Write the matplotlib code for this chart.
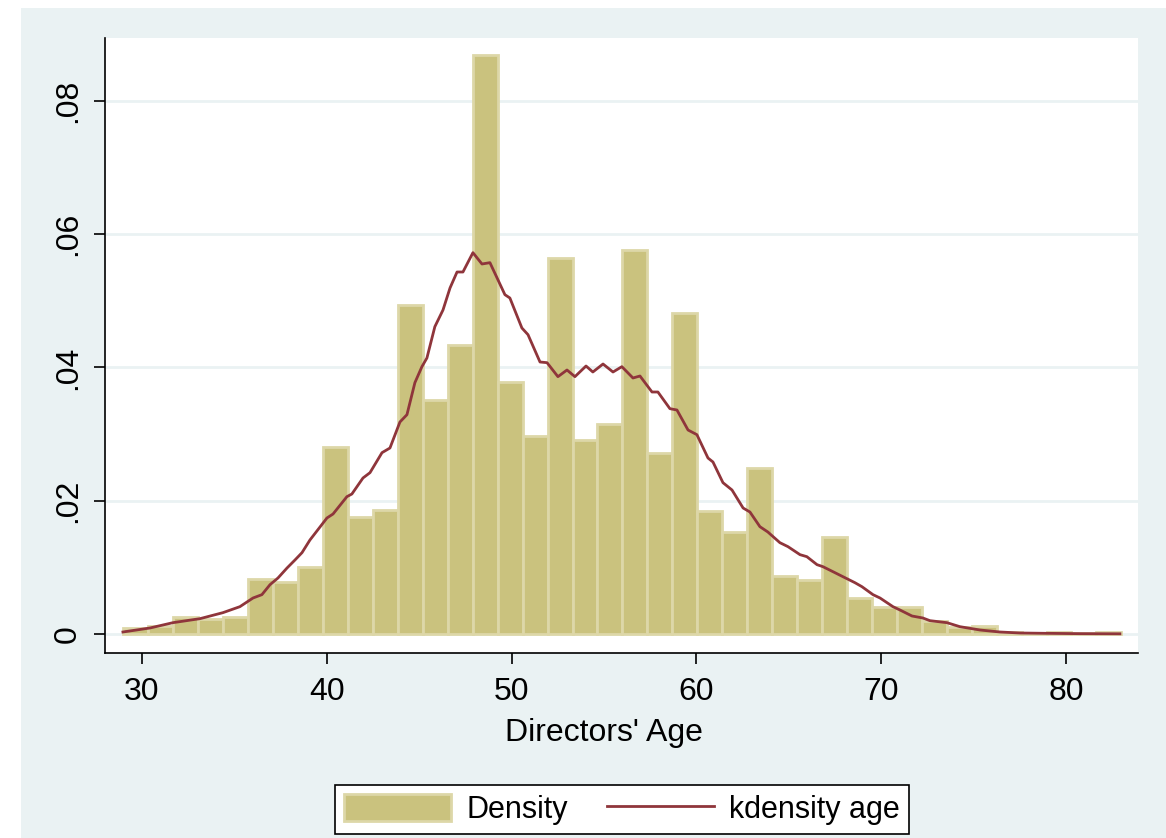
import matplotlib
matplotlib.use('Agg')
import matplotlib.pyplot as plt
from matplotlib.patches import Rectangle, Patch
from matplotlib.lines import Line2D

plt.rcParams['font.family'] = ['Liberation Sans', 'DejaVu Sans']

# histogram: 40 bins of width 1.35 starting at age 29
bin_start = 29.0
bin_width = 1.35
bar_density = [0.0009, 0.0012, 0.0026, 0.0022, 0.0026, 0.0083, 0.0078, 0.0101,
               0.0280, 0.0176, 0.0186, 0.0494, 0.0351, 0.0434, 0.0868, 0.0378,
               0.0297, 0.0564, 0.0291, 0.0315, 0.0576, 0.0272, 0.0482, 0.0185,
               0.0153, 0.0249, 0.0087, 0.0081, 0.0146, 0.0054, 0.0040, 0.0040,
               0.0019, 0.0010, 0.0012, 0.0003, 0.0002, 0.0003, 0.0001, 0.0003]

# kernel density curve
kd_age = [28.97, 30.43, 31.68, 33.14, 34.38, 35.30, 36.01, 36.49, 36.93, 37.36,
          37.85, 38.28, 38.66, 39.09, 40.01, 40.34, 41.09, 41.36, 41.96, 42.34,
          42.99, 43.42, 43.96, 44.34, 44.77, 45.15, 45.42, 45.85, 46.29, 46.67,
          47.05, 47.37, 47.91, 48.40, 48.83, 49.37, 49.64, 49.91, 50.56, 50.89,
          51.54, 51.92, 52.51, 53.00, 53.43, 54.03, 54.40, 54.95, 55.49, 55.97,
          56.57, 56.95, 57.60, 57.92, 58.57, 58.95, 59.55, 60.03, 60.63, 60.90,
          61.44, 61.93, 62.53, 62.90, 63.44, 63.87, 64.52, 64.96, 65.61, 65.98,
          66.53, 66.85, 67.50, 67.93, 68.58, 68.96, 69.56, 69.94, 70.64, 71.02,
          71.67, 72.26, 72.64, 73.56, 74.26, 75.35, 76.43, 77.51, 78.97, 80.76,
          82.92]
kd_dens = [0.0003, 0.0009, 0.0017, 0.0023, 0.0032, 0.0041, 0.0054, 0.0059, 0.0074, 0.0084,
           0.0099, 0.0111, 0.0122, 0.0141, 0.0174, 0.0180, 0.0206, 0.0210, 0.0234, 0.0242,
           0.0272, 0.0279, 0.0318, 0.0329, 0.0377, 0.0401, 0.0414, 0.0461, 0.0486, 0.0519,
           0.0543, 0.0543, 0.0572, 0.0555, 0.0557, 0.0525, 0.0509, 0.0504, 0.0459, 0.0449,
           0.0408, 0.0407, 0.0386, 0.0396, 0.0386, 0.0402, 0.0393, 0.0405, 0.0393, 0.0401,
           0.0384, 0.0387, 0.0363, 0.0363, 0.0338, 0.0336, 0.0306, 0.0299, 0.0264, 0.0258,
           0.0227, 0.0216, 0.0189, 0.0183, 0.0161, 0.0153, 0.0137, 0.0131, 0.0119, 0.0116,
           0.0104, 0.0101, 0.0092, 0.0086, 0.0077, 0.0071, 0.0059, 0.0054, 0.0041, 0.0036,
           0.0027, 0.0024, 0.0020, 0.0017, 0.0011, 0.0006, 0.0003, 0.00015, 0.0001, 0.00005,
           0.00003]

x_ticks = [30, 40, 50, 60, 70, 80]
y_ticks = [0, 0.02, 0.04, 0.06, 0.08]
y_tick_labels = ['0', '.02', '.04', '.06', '.08']

bar_color = '#CAC27E'
bar_edge = '#DDD7A8'
line_color = '#8F353B'
bg_color = '#EAF2F3'

W, H = 1166, 838
fig = plt.figure(figsize=(W / 100, H / 100), dpi=100, facecolor='white')

# stata-like outer background, kept behind the axes
fig.patches.append(Rectangle((21 / W, 0), 1 - 21 / W, 1 - 8 / H,
                             transform=fig.transFigure, facecolor=bg_color,
                             edgecolor='none', zorder=-10))

ax = fig.add_axes([105 / W, 1 - 653 / H, (1138 - 105) / W, (653 - 38) / H])
ax.set_zorder(1)
ax.set_facecolor('white')

edges = [bin_start + i * bin_width for i in range(len(bar_density))]
ax.bar(edges, bar_density, width=bin_width, align='edge', color=bar_color,
       edgecolor=bar_edge, linewidth=2, zorder=2)
ax.plot(kd_age, kd_dens, color=line_color, linewidth=2.0, zorder=3,
        solid_joinstyle='round')

ax.set_xlim(28.0, 83.9)
ax.set_ylim(-0.00285, 0.0894)

ax.set_yticks(y_ticks)
ax.set_yticklabels(y_tick_labels, rotation=90, va='center')
ax.set_xticks(x_ticks)
ax.tick_params(axis='both', direction='out', length=8, width=1.2,
               labelsize=23, color='black')
ax.tick_params(axis='x', pad=9)
ax.tick_params(axis='y', pad=8)

ax.grid(axis='y', color=bg_color, linewidth=2, zorder=1)
ax.set_axisbelow(True)

for s in ['top', 'right']:
    ax.spines[s].set_visible(False)
for s in ['left', 'bottom']:
    ax.spines[s].set_linewidth(1.2)

ax.set_xlabel("Directors' Age", fontsize=23)
ax.xaxis.set_label_coords((604 - 105) / (1138 - 105), -(718 - 653) / (653 - 38))

handles = [Patch(facecolor=bar_color, edgecolor=bar_edge, linewidth=2),
           Line2D([0], [0], color=line_color, linewidth=2.0)]
leg = fig.legend(handles, ['Density', 'kdensity age'], ncol=2, loc='center',
                 bbox_to_anchor=(622 / W, 1 - 809.5 / H), fontsize=22,
                 frameon=True, fancybox=False, edgecolor='black',
                 facecolor='white', framealpha=1,
                 handlelength=3.5, handleheight=1.0, handletextpad=0.5,
                 columnspacing=1.3, borderpad=0.3, borderaxespad=0)
leg.get_frame().set_linewidth(1.2)

fig.savefig('out.png', dpi=100, facecolor='white')
